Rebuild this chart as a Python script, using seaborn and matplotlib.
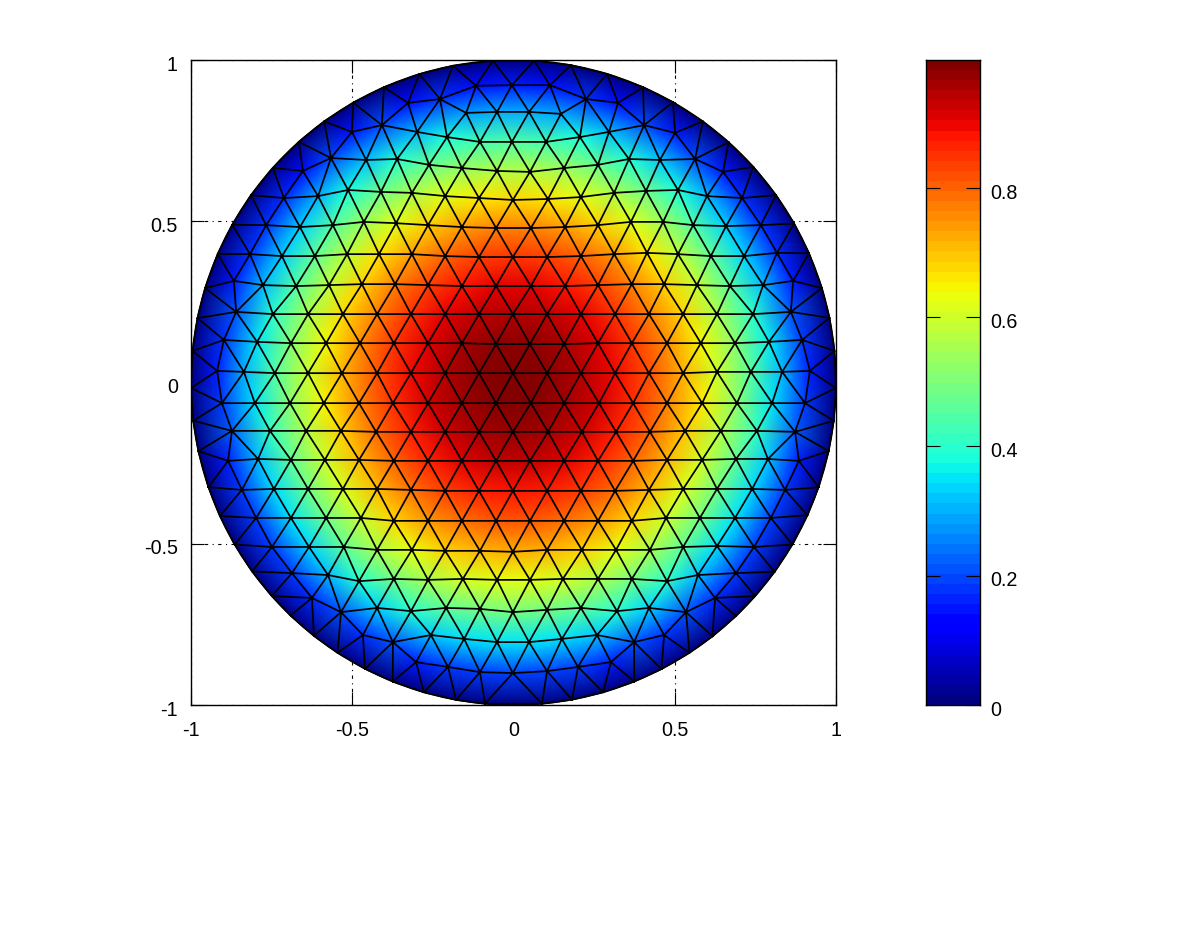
import numpy as np
import matplotlib
matplotlib.use("Agg")
import matplotlib.pyplot as plt
import matplotlib.tri as mtri
from matplotlib.patches import Circle
from matplotlib.transforms import ScaledTranslation
import seaborn as sns

# mesh nodes, boundary ring first (value 0 all the way round)
boundary_x = [-.064, .064, .178, .290, .402, .495, .588, .665, .743, .814, .867, .910, .957, .978, .997,
              .997, .994, .975, .944, .910, .857, .805, .749, .684, .616, .544, .457, .374, .278, .181, .088,
              -.088, -.178, -.278, -.374, -.459, -.544, -.619, -.687, -.749, -.808, -.857, -.904, -.944, -.972,
              -.997, -1.0, -.997, -.981, -.957, -.916, -.870, -.814, -.749, -.668, -.588, -.498, -.402, -.293, -.188]
boundary_y = [.997, .997, .984, .957, .916, .870, .811, .743, .668, .581, .491, .398, .293, .200, .098,
              -.017, -.119, -.212, -.324, -.411, -.498, -.584, -.662, -.718, -.786, -.836, -.885, -.926, -.960, -.981, -.994,
              -.994, -.984, -.960, -.926, -.885, -.836, -.786, -.718, -.662, -.584, -.498, -.411, -.324, -.212,
              -.119, -.017, .098, .200, .293, .398, .488, .581, .668, .749, .811, .870, .916, .960, .984]
boundary_u = [0.0] * 60

# interior nodes, roughly row by row from the top
rows_x = [
    [-.116, -.005, .113],
    [-.327, -.228, .225, .324],
    [-.147, -.051, .048, .147],
    [-.501, -.408, -.299, -.206, -.104, -.005, .101, .206, .296, .405, .501],
    [-.653, -.566, -.457, -.361, -.262, -.160, -.051, .051, .157, .262, .358, .454, .563, .650],
    [-.712, -.606, -.513, -.411, -.315, -.212, -.107, -.002, .107, .209, .312, .411, .510, .600, .709],
    [-.767, -.662, -.560, -.464, -.364, -.265, -.160, -.054, .054, .160, .262, .364, .464, .557, .659, .767],
    [-.817, -.718, -.616, -.516, -.417, -.315, -.212, -.107, -.002, .104, .209, .312, .414, .510, .612, .715, .817],
    [-.867, -.777, -.674, -.572, -.470, -.367, -.265, -.160, -.054, .054, .160, .262, .367, .467, .569, .671, .774, .867],
    [-.860, -.746, -.637, -.529, -.423, -.318, -.212, -.107, -.002, .104, .209, .315, .420, .526, .631, .743, .860],
    [-.898, -.795, -.690, -.581, -.476, -.371, -.265, -.160, -.054, .051, .157, .262, .367, .476, .581, .687, .792, .895],
    [-.919, -.836, -.740, -.637, -.532, -.423, -.318, -.212, -.107, -.002, .104, .209, .315, .420, .526, .631, .736, .833, .919],
    [-.904, -.802, -.693, -.588, -.479, -.374, -.265, -.160, -.054, .054, .157, .265, .371, .476, .585, .693, .802, .904],
    [-.873, -.755, -.643, -.535, -.426, -.318, -.212, -.107, -.002, .107, .212, .318, .423, .532, .643, .755, .873],
    [-.885, -.792, -.690, -.585, -.479, -.371, -.265, -.160, -.054, .051, .157, .262, .371, .476, .585, .690, .789, .885],
    [-.842, -.743, -.637, -.529, -.423, -.318, -.212, -.107, -.002, .104, .209, .315, .420, .526, .631, .740, .842],
    [-.798, -.690, -.581, -.473, -.371, -.265, -.160, -.054, .051, .157, .262, .367, .473, .578, .687, .798],
    [-.749, -.634, -.526, -.423, -.315, -.212, -.104, -.002, .104, .212, .318, .423, .526, .631, .746],
    [-.687, -.575, -.479, -.371, -.265, -.157, -.051, .051, .153, .262, .367, .476, .572, .690],
    [-.625, -.535, -.423, -.318, -.209, -.104, -.002, .104, .209, .321, .420, .535, .625],
    [-.467, -.374, -.256, -.153, -.051, .048, .150, .259, .374, .467],
    [-.302, -.203, -.104, -.002, .104, .200, .302],
]
rows_y = [
    [.920, .922, .922],
    [.867, .879, .879, .867],
    [.836, .839, .839, .833],
    [.777, .798, .777, .761, .746, .746, .746, .761, .777, .798, .774],
    [.656, .696, .690, .693, .675, .665, .656, .653, .665, .675, .693, .690, .693, .653],
    [.572, .578, .597, .591, .588, .578, .572, .566, .569, .575, .588, .594, .597, .578, .572],
    [.488, .482, .488, .498, .494, .488, .482, .479, .479, .482, .488, .498, .498, .488, .485, .488],
    [.398, .392, .392, .398, .398, .398, .392, .389, .389, .389, .392, .398, .402, .398, .392, .392, .402],
    [.315, .302, .299, .302, .305, .305, .302, .299, .299, .299, .299, .302, .305, .305, .302, .299, .302, .315],
    [.219, .212, .212, .212, .212, .212, .212, .212, .212, .212, .212, .212, .212, .212, .212, .212, .219],
    [.132, .126, .122, .122, .122, .122, .122, .122, .119, .119, .119, .122, .122, .122, .122, .122, .126, .132],
    [.036, .033, .029, .029, .029, .029, .029, .029, .029, .029, .029, .029, .029, .029, .029, .033, .033, .033, .036],
    [-.064, -.064, -.064, -.064, -.064, -.064, -.064, -.064, -.064, -.064, -.064, -.064, -.064, -.064, -.064, -.064, -.064, -.064],
    [-.150, -.150, -.150, -.150, -.153, -.153, -.153, -.153, -.153, -.153, -.153, -.153, -.153, -.150, -.150, -.150, -.153],
    [-.243, -.237, -.240, -.240, -.240, -.243, -.243, -.243, -.243, -.243, -.243, -.243, -.243, -.240, -.240, -.237, -.237, -.243],
    [-.333, -.330, -.330, -.330, -.330, -.333, -.336, -.336, -.336, -.336, -.336, -.336, -.333, -.330, -.330, -.330, -.333],
    [-.420, -.420, -.420, -.420, -.429, -.429, -.429, -.429, -.429, -.429, -.429, -.429, -.420, -.420, -.420, -.420],
    [-.510, -.510, -.510, -.519, -.519, -.522, -.522, -.525, -.519, -.519, -.519, -.519, -.510, -.507, -.510],
    [-.591, -.597, -.616, -.609, -.612, -.609, -.612, -.612, -.609, -.609, -.609, -.616, -.597, -.591],
    [-.668, -.712, -.699, -.709, -.699, -.702, -.712, -.705, -.699, -.709, -.699, -.712, -.668],
    [-.783, -.805, -.783, -.795, -.805, -.805, -.795, -.783, -.805, -.783],
    [-.867, -.882, -.898, -.901, -.895, -.882, -.867],
]
rows_u = [
    [.14, .15, .14],
    [.14, .175, .175, .14],
    [.28, .295, .295, .285],
    [.145, .20, .305, .38, .43, .445, .43, .38, .31, .20, .15],
    [.14, .195, .315, .39, .475, .53, .565, .57, .535, .475, .39, .32, .20, .15],
    [.165, .30, .38, .48, .555, .62, .66, .68, .665, .625, .555, .48, .385, .305, .17],
    [.175, .33, .45, .535, .62, .69, .74, .77, .77, .74, .69, .62, .535, .45, .33, .175],
    [.175, .33, .465, .575, .67, .74, .80, .84, .85, .84, .80, .745, .665, .58, .47, .335, .17],
    [.15, .305, .455, .58, .685, .775, .84, .885, .91, .91, .885, .84, .77, .69, .585, .46, .31, .15],
    [.21, .40, .55, .675, .775, .855, .91, .945, .955, .945, .91, .855, .775, .68, .555, .405, .21],
    [.175, .35, .51, .645, .76, .85, .915, .96, .985, .985, .96, .915, .85, .76, .645, .515, .355, .18],
    [.155, .30, .45, .595, .715, .82, .90, .955, .99, .998, .99, .955, .90, .825, .72, .60, .455, .305, .155],
    [.18, .35, .515, .65, .765, .855, .925, .97, .993, .993, .97, .925, .86, .77, .655, .515, .35, .18],
    [.215, .41, .565, .69, .795, .875, .93, .965, .975, .965, .93, .875, .80, .695, .565, .41, .215],
    [.155, .315, .465, .60, .71, .80, .87, .915, .94, .94, .915, .87, .80, .715, .60, .465, .32, .155],
    [.18, .34, .485, .61, .71, .785, .84, .875, .885, .875, .845, .79, .71, .615, .49, .34, .18],
    [.185, .35, .485, .595, .68, .745, .79, .815, .815, .79, .745, .68, .60, .49, .35, .185],
    [.18, .335, .465, .55, .63, .685, .715, .725, .72, .685, .63, .55, .465, .345, .185],
    [.18, .31, .395, .49, .555, .605, .625, .625, .605, .56, .495, .40, .315, .18],
    [.165, .205, .33, .395, .465, .495, .495, .49, .465, .395, .335, .205, .165],
    [.17, .21, .32, .345, .35, .35, .345, .32, .21, .17],
    [.155, .18, .185, .19, .19, .185, .155],
]

axis_ticks = [-1, -0.5, 0, 0.5, 1]
axis_tick_labels = ["-1", "-0.5", "0", "0.5", "1"]
cbar_ticks = [0, 0.2, 0.4, 0.6, 0.8]
cbar_tick_labels = ["0", "0.2", "0.4", "0.6", "0.8"]
u_max = 0.998
n_levels = 64
font_size = 14.2

sns.set_style("ticks")
plt.rcParams["font.family"] = ["Liberation Sans", "DejaVu Sans"]
plt.rcParams["font.size"] = font_size

# the ring was read to a pixel or so, put it back on the unit circle
ring_r = np.hypot(boundary_x, boundary_y)
node_x = np.concatenate([boundary_x / ring_r, sum(rows_x, [])])
node_y = np.concatenate([boundary_y / ring_r, sum(rows_y, [])])
node_u = np.array(boundary_u + sum(rows_u, []))

jet = plt.get_cmap("jet", n_levels)

W, H = 1200, 942
fig = plt.figure(figsize=(W / 100, H / 100), dpi=100)
ax = fig.add_axes([191 / W, 1 - 705 / H, 645 / W, 645 / H])
cax = fig.add_axes([926 / W, 1 - 705 / H, 54.5 / W, 645 / H])

# gouraud field plus the element edges on top
tri = mtri.Triangulation(node_x, node_y)
ax.add_patch(Circle((0, 0), 1, facecolor=jet(0), edgecolor="black", lw=1.1, zorder=0.9))
ax.tripcolor(tri, node_u, shading="gouraud", cmap="jet", vmin=0, vmax=u_max, zorder=1)
ax.triplot(tri, color="black", lw=1.25, zorder=1.5)

ax.set_xlim(-1, 1)
ax.set_ylim(-1, 1)
ax.set_xticks(axis_ticks, axis_tick_labels)
ax.set_yticks(axis_ticks, axis_tick_labels)
ax.set_axisbelow(True)
ax.grid(True, color="black", lw=0.8, linestyle=(0, (3, 4, 1, 4)))
ax.tick_params(direction="in", length=9.5, width=0.8, color="black", top=True, right=True,
               labelsize=font_size, labelcolor="black")
ax.tick_params(axis="x", pad=11.5)
ax.tick_params(axis="y", pad=9.5)
for spine in ax.spines.values():
    spine.set_visible(True)
    spine.set_color("black")
    spine.set_linewidth(1.0)

# colorbar strip as a 64 row heatmap
levels = np.linspace(0, u_max, n_levels).reshape(-1, 1)
sns.heatmap(levels, ax=cax, cmap=jet, vmin=0, vmax=u_max, cbar=False,
            xticklabels=False, yticklabels=False)
cax.set_ylim(0, n_levels)
cax.set_yticks([t / u_max * n_levels for t in cbar_ticks], cbar_tick_labels)
cax.set_axisbelow(False)
cax.tick_params(axis="y", direction="in", length=10, width=0.8, color="black", left=True, right=True,
                labelleft=False, labelright=True, labelsize=font_size, pad=7, rotation=0, labelcolor="black")
for spine in cax.spines.values():
    spine.set_visible(True)
    spine.set_color("black")
    spine.set_linewidth(1.0)

# tick labels sit a few pixels under their ticks in the original
nudge = ScaledTranslation(0, -2.2 / 72, fig.dpi_scale_trans)
for lab in ax.get_yticklabels() + cax.get_yticklabels():
    lab.set_transform(lab.get_transform() + nudge)

fig.savefig("out.png", dpi=100, facecolor="white")
